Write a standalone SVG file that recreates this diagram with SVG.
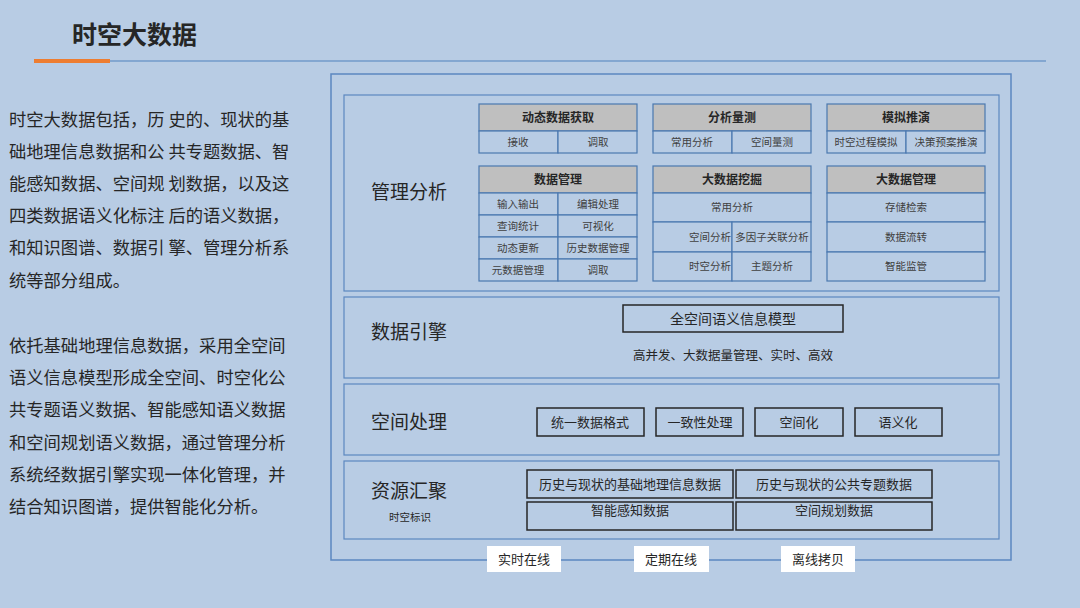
<svg xmlns="http://www.w3.org/2000/svg" width="1080" height="608" viewBox="0 0 1080 608">
<style>
text{font-family:"Noto Sans CJK SC","Liberation Sans",sans-serif;fill:#262626}
.sec{fill:#b8cce4;stroke:#5b87c0;stroke-width:1.2}
.hd{fill:#bfbfbf;stroke:#4a78b0;stroke-width:1.2}
.cell{fill:#b8cce4;stroke:#4a78b0;stroke-width:1.2}
.bx{fill:none;stroke:#262626;stroke-width:1.5}
.ht{font-size:12px;font-weight:bold;text-anchor:middle}
.ct{font-size:10.5px;text-anchor:middle;fill:#404040}
.ce{font-size:10.5px;text-anchor:end;fill:#404040}
.bt{font-size:13px;text-anchor:middle}
.lab{font-size:19px}
.p{font-size:17.3px}
.wb{fill:#fff}
</style>
<rect width="1080" height="608" fill="#b8cce4"/>
<text x="72" y="44" font-size="25" font-weight="bold">时空大数据</text>
<line x1="110" y1="61" x2="1046" y2="61" stroke="#4f81bd" stroke-width="1"/>
<line x1="34" y1="61" x2="110" y2="61" stroke="#ed7d31" stroke-width="4"/>
<g id="desc">
<text class="p" x="9" y="126">时空大数据包括，历 史的、现状的基</text>
<text class="p" x="9" y="158">础地理信息数据和公 共专题数据、智</text>
<text class="p" x="9" y="190">能感知数据、空间规 划数据，以及这</text>
<text class="p" x="9" y="222">四类数据语义化标注 后的语义数据，</text>
<text class="p" x="9" y="254">和知识图谱、数据引 擎、管理分析系</text>
<text class="p" x="9" y="287">统等部分组成。</text>
<text class="p" x="9" y="352">依托基础地理信息数据，采用全空间</text>
<text class="p" x="9" y="384">语义信息模型形成全空间、时空化公</text>
<text class="p" x="9" y="416">共专题语义数据、智能感知语义数据</text>
<text class="p" x="9" y="449">和空间规划语义数据，通过管理分析</text>
<text class="p" x="9" y="481">系统经数据引擎实现一体化管理，并</text>
<text class="p" x="9" y="513">结合知识图谱，提供智能化分析。</text>
</g>
<rect x="331" y="74" width="680" height="486" fill="none" stroke="#5b87c0" stroke-width="1.5"/>
<g id="mgmt">
<rect class="sec" x="344" y="95" width="655" height="196"/>
<text class="lab" x="371" y="199">管理分析</text>
</g>
<g id="m1"><rect class="hd" x="479" y="104" width="158" height="27"/><text class="ht" x="558" y="122">动态数据获取</text>
<rect class="cell" x="479" y="131" width="79" height="22"/><rect class="cell" x="558" y="131" width="79" height="22"/>
<text class="ct" x="518" y="146">接收</text><text class="ct" x="598" y="146">调取</text></g>
<g id="m2"><rect class="hd" x="653" y="104" width="158" height="27"/><text class="ht" x="732" y="122">分析量测</text>
<rect class="cell" x="653" y="131" width="79" height="22"/><rect class="cell" x="732" y="131" width="79" height="22"/>
<text class="ct" x="692" y="146">常用分析</text><text class="ct" x="772" y="146">空间量测</text></g>
<g id="m3"><rect class="hd" x="827" y="104" width="158" height="27"/><text class="ht" x="906" y="122">模拟推演</text>
<rect class="cell" x="827" y="131" width="79" height="22"/><rect class="cell" x="906" y="131" width="79" height="22"/>
<text class="ct" x="866" y="146">时空过程模拟</text><text class="ct" x="946" y="146">决策预案推演</text></g>
<g id="m4"><rect class="hd" x="479" y="166" width="158" height="27"/><text class="ht" x="558" y="184">数据管理</text>
<rect class="cell" x="479" y="193" width="79" height="22"/><rect class="cell" x="558" y="193" width="79" height="22"/>
<rect class="cell" x="479" y="215" width="79" height="22"/><rect class="cell" x="558" y="215" width="79" height="22"/>
<rect class="cell" x="479" y="237" width="79" height="22"/><rect class="cell" x="558" y="237" width="79" height="22"/>
<rect class="cell" x="479" y="259" width="79" height="22"/><rect class="cell" x="558" y="259" width="79" height="22"/>
<text class="ct" x="518" y="208">输入输出</text><text class="ct" x="598" y="208">编辑处理</text>
<text class="ct" x="518" y="230">查询统计</text><text class="ct" x="598" y="230">可视化</text>
<text class="ct" x="518" y="252">动态更新</text><text class="ct" x="598" y="252">历史数据管理</text>
<text class="ct" x="518" y="274">元数据管理</text><text class="ct" x="598" y="274">调取</text></g>
<g id="m5"><rect class="hd" x="653" y="166" width="158" height="27"/><text class="ht" x="732" y="184">大数据挖掘</text>
<rect class="cell" x="653" y="193" width="158" height="29"/>
<rect class="cell" x="653" y="222" width="79" height="30"/><rect class="cell" x="732" y="222" width="79" height="30"/>
<rect class="cell" x="653" y="252" width="79" height="29"/><rect class="cell" x="732" y="252" width="79" height="29"/>
<text class="ct" x="732" y="211">常用分析</text>
<text class="ce" x="731" y="241">空间分析</text><text class="ct" x="772" y="241">多因子关联分析</text>
<text class="ce" x="731" y="270">时空分析</text><text class="ct" x="772" y="270">主题分析</text></g>
<g id="m6"><rect class="hd" x="827" y="166" width="158" height="27"/><text class="ht" x="906" y="184">大数据管理</text>
<rect class="cell" x="827" y="193" width="158" height="29"/><rect class="cell" x="827" y="222" width="158" height="30"/><rect class="cell" x="827" y="252" width="158" height="29"/>
<text class="ct" x="906" y="211">存储检索</text><text class="ct" x="906" y="241">数据流转</text><text class="ct" x="906" y="270">智能监管</text></g>
<g id="engine">
<rect class="sec" x="344" y="297" width="655" height="81"/>
<text class="lab" x="371" y="339">数据引擎</text>
<rect class="bx" x="623" y="305" width="220" height="27"/>
<text x="733" y="324" font-size="14" text-anchor="middle">全空间语义信息模型</text>
<text x="733" y="360" font-size="12.5" text-anchor="middle">高并发、大数据量管理、实时、高效</text>
</g>
<g id="proc">
<rect class="sec" x="344" y="384" width="655" height="71"/>
<text class="lab" x="371" y="429">空间处理</text>
<rect class="bx" x="537" y="408" width="107" height="28"/><text class="bt" x="590" y="427">统一数据格式</text>
<rect class="bx" x="656" y="408" width="87" height="28"/><text class="bt" x="700" y="427">一致性处理</text>
<rect class="bx" x="755" y="408" width="88" height="28"/><text class="bt" x="799" y="427">空间化</text>
<rect class="bx" x="855" y="408" width="87" height="28"/><text class="bt" x="898" y="427">语义化</text>
</g>
<g id="res">
<rect class="sec" x="344" y="461" width="655" height="78"/>
<text class="lab" x="371" y="498">资源汇聚</text>
<text x="389" y="521" font-size="10.5" fill="#404040">时空标识</text>
<rect class="bx" x="527" y="470" width="206" height="28"/><text class="bt" x="630" y="489">历史与现状的基础地理信息数据</text>
<rect class="bx" x="736" y="470" width="196" height="28"/><text class="bt" x="834" y="489">历史与现状的公共专题数据</text>
<rect class="bx" x="527" y="502" width="206" height="28"/><text class="bt" x="630" y="515">智能感知数据</text>
<rect class="bx" x="736" y="502" width="196" height="28"/><text class="bt" x="834" y="515">空间规划数据</text>
</g>
<g id="bottom">
<rect class="wb" x="487" y="546" width="74" height="26"/><text class="bt" x="524" y="564">实时在线</text>
<rect class="wb" x="634" y="546" width="75" height="26"/><text class="bt" x="671" y="564">定期在线</text>
<rect class="wb" x="781" y="546" width="74" height="26"/><text class="bt" x="818" y="564">离线拷贝</text>
</g>
</svg>
